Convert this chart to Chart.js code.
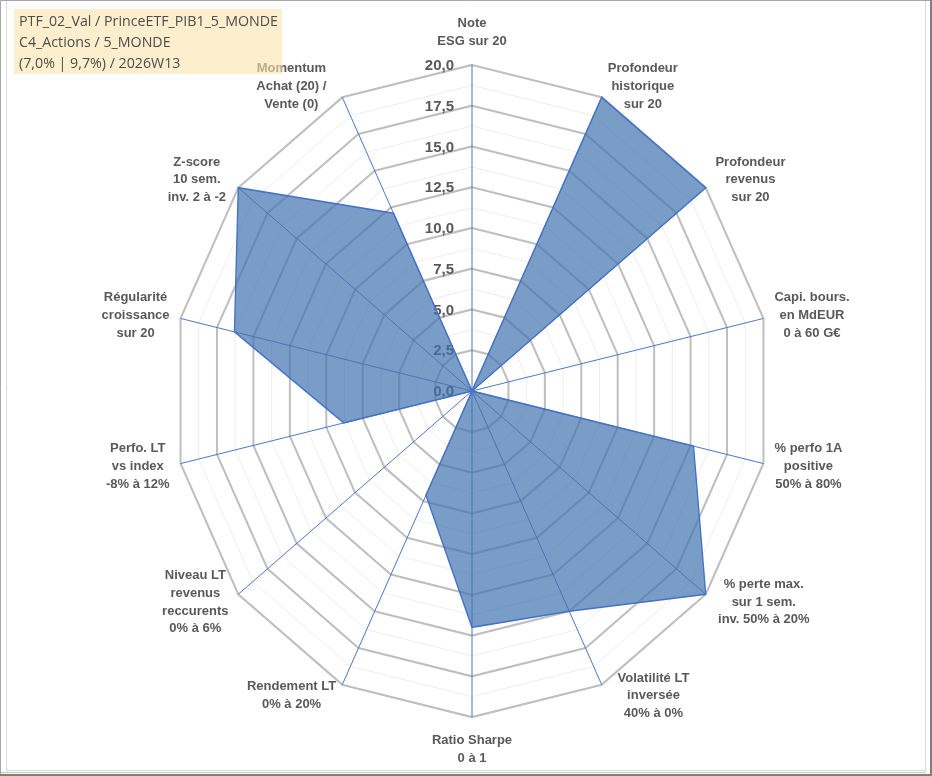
<!DOCTYPE html>
<html>
<head>
<meta charset="utf-8">
<script src="https://cdn.jsdelivr.net/npm/chart.js@4.4.1/dist/chart.umd.min.js"></script>
<style>
html, body { margin: 0; padding: 0; background: #fff; }
#wrap { position: relative; width: 932px; height: 776px; }
canvas { display: block; }
</style>
</head>
<body>
<div id="wrap"><canvas id="radar" width="932" height="776"></canvas></div>
<script>
// axes du radar (une ligne par entrée de tableau)
let categories = [
    ['Note', 'ESG sur 20'],
    ['Profondeur', 'historique', 'sur 20'],
    ['Profondeur', 'revenus', 'sur 20'],
    ['Capi. bours.', 'en MdEUR', '0 à 60 G€'],
    ['% perfo 1A', 'positive', '50% à 80%'],
    ['% perte max.', 'sur 1 sem.', 'inv. 50% à 20%'],
    ['Volatilité LT', 'inversée', '40% à 0%'],
    ['Ratio Sharpe', '0 à 1'],
    ['Rendement LT', '0% à 20%'],
    ['Niveau LT', 'revenus', 'reccurents', '0% à 6%'],
    ['Perfo. LT', 'vs index', '-8% à 12%'],
    ['Régularité', 'croissance', 'sur 20'],
    ['Z-score', '10 sem.', 'inv. 2 à -2'],
    ['Momentum', 'Achat (20) /', 'Vente (0)']
]
let scores = [0, 20, 20, 0, 15.2, 20, 15.0, 14.5, 7.1, 0, 8.8, 16.3, 20, 12.1]
let tickValues = [0, 2.5, 5, 7.5, 10, 12.5, 15, 17.5, 20]
let titleLines = ['PTF_02_Val / PrinceETF_PIB1_5_MONDE', 'C4_Actions / 5_MONDE', '(7,0% | 9,7%) / 2026W13']

const SX = 0.917   // le graphique d'origine est un peu écrasé en largeur
const labelFont = 'bold 13px "Liberation Sans", Arial, sans-serif'
const grey = '#595959'

function isMajor(v) {
    return Math.abs(v / 2.5 - Math.round(v / 2.5)) < 1e-6
}

function squash(ctx, r) {
    ctx.translate(r.xCenter, 0)
    ctx.scale(SX, 1)
    ctx.translate(-r.xCenter, 0)
}

const excelLook = {
    id: 'excelLook',
    beforeDraw(chart) {
        chart.ctx.save()
        squash(chart.ctx, chart.scales.r)
    },
    beforeDatasetsDraw(chart) {
        const ctx = chart.ctx
        const r = chart.scales.r
        ctx.restore()
        // graduations à gauche de l'axe vertical
        ctx.save()
        ctx.font = 'bold 15px "Liberation Sans", Arial, sans-serif'
        ctx.fillStyle = grey
        ctx.textAlign = 'right'
        ctx.textBaseline = 'middle'
        tickValues.forEach(v => {
            const y = r.yCenter - r.getDistanceFromCenterForValue(v)
            ctx.fillText(v.toFixed(1).replace('.', ','), r.xCenter - 18, y + 1)
        })
        ctx.restore()
        ctx.save()
        squash(ctx, r)
    },
    afterDatasetsDraw(chart) {
        chart.ctx.restore()
    },
    afterDraw(chart) {
        const ctx = chart.ctx
        const r = chart.scales.r
        ctx.save()
        // libellés des axes
        ctx.font = labelFont
        ctx.fillStyle = grey
        ctx.textAlign = 'center'
        ctx.textBaseline = 'middle'
        const lh = 17.7
        categories.forEach((lines, i) => {
            const p = r.getPointPosition(i, r.drawingArea)
            const x = r.xCenter + (p.x - r.xCenter) * SX
            const y = p.y
            let ux = x - r.xCenter, uy = y - r.yCenter
            const len = Math.hypot(ux, uy)
            ux /= len; uy /= len
            const w = Math.max(...lines.map(t => ctx.measureText(t).width))
            const h = lines.length * lh
            let cx, cy
            if (Math.abs(ux) < 0.05) {
                cx = x
                cy = y + uy * (h / 2 + 15)
            } else {
                const gap = 11 + 7 * Math.sign(ux) * Math.sign(uy) * Math.pow(uy, 4)
                cx = x + Math.sign(ux) * (w / 2 + gap)
                cy = y + uy * 12
            }
            lines.forEach((t, k) => {
                ctx.fillText(t, cx, cy - h / 2 + lh / 2 + k * lh)
            })
        })

        // cartouche du titre
        ctx.fillStyle = 'rgba(252,227,172,0.6)'
        ctx.fillRect(14, 9, 268, 65)
        ctx.font = '15px "Open Sans", "Noto Sans", sans-serif'
        ctx.fillStyle = '#4d4d4d'
        ctx.textAlign = 'left'
        const tw = Math.max(...titleLines.map(t => ctx.measureText(t).width))
        const k = Math.min(1, 259 / tw)
        titleLines.forEach((t, i) => {
            ctx.save()
            ctx.translate(19, 22 + i * 21)
            ctx.scale(k, 1)
            ctx.fillText(t, 0, 0)
            ctx.restore()
        })

        // cadre
        ctx.lineWidth = 1
        ctx.strokeStyle = '#d9d9d9'
        ctx.beginPath()
        ctx.moveTo(6.5, 0); ctx.lineTo(6.5, 770.5); ctx.lineTo(925.5, 770.5); ctx.lineTo(925.5, 0)
        ctx.stroke()
        ctx.strokeStyle = '#b5d7a0'
        ctx.beginPath(); ctx.moveTo(0, 772.5); ctx.lineTo(926, 772.5); ctx.stroke()
        ctx.strokeStyle = '#a6a6a6'
        ctx.beginPath(); ctx.moveTo(0.5, 776); ctx.lineTo(0.5, 0.5); ctx.lineTo(932, 0.5); ctx.stroke()
        ctx.strokeStyle = '#7f7f7f'
        ctx.lineWidth = 2
        ctx.beginPath(); ctx.moveTo(931, 0); ctx.lineTo(931, 775); ctx.lineTo(0, 775); ctx.stroke()
        ctx.restore()
    }
}

function fun_chart() {
    let ctx = document.getElementById('radar').getContext('2d')
    new Chart(ctx, {
        type: 'radar',
        data: {
            labels: categories,
            datasets: [{
                label: 'Score',
                data: scores,
                fill: true,
                backgroundColor: 'rgba(65,116,176,0.7)',
                borderColor: '#4472c4',
                borderWidth: 1.5,
                pointRadius: 0,
                pointHoverRadius: 0
            }]
        },
        options: {
            responsive: false,
            animation: false,
            layout: { padding: { left: 146, right: 134, top: 65, bottom: 59 } },
            plugins: { legend: { display: false }, tooltip: { enabled: false } },
            scales: {
                r: {
                    min: 0,
                    max: 20,
                    ticks: { display: false, stepSize: 1.25, maxTicksLimit: 30 },
                    pointLabels: { display: false },
                    grid: {
                        color: c => isMajor(c.tick.value) ? '#bfbfbf' : '#ececec',
                        lineWidth: c => isMajor(c.tick.value) ? 2.2 : 1
                    },
                    angleLines: { color: '#4472c4', lineWidth: 1 }
                }
            }
        },
        plugins: [excelLook]
    })
}

document.addEventListener('DOMContentLoaded', fun_chart)
</script>
</body>
</html>
